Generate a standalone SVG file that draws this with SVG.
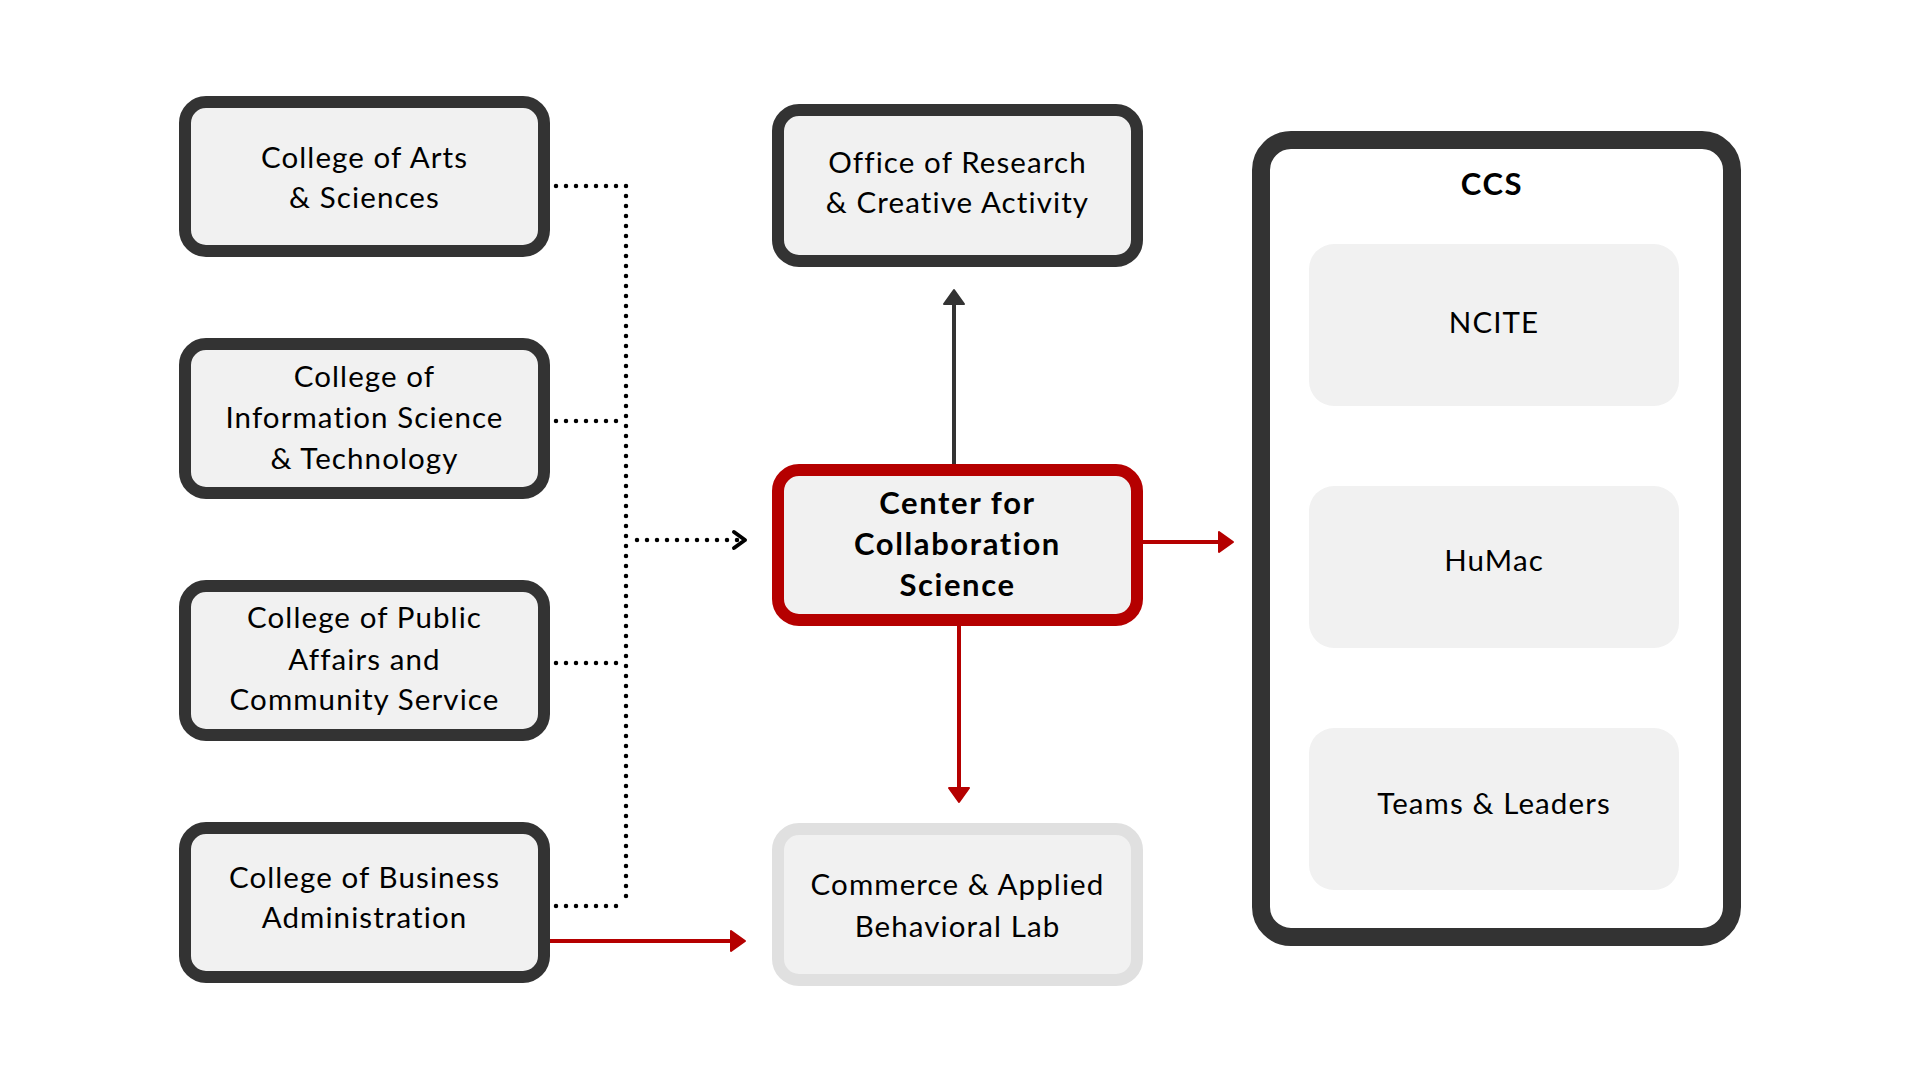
<svg xmlns="http://www.w3.org/2000/svg" width="1920" height="1080" viewBox="0 0 1920 1080">
<style>
.box{fill:#f1f1f1;stroke:#333333;stroke-width:12}
.red{fill:#f1f1f1;stroke:#b50000;stroke-width:12}
.lite{fill:#f1f1f1;stroke:#e0e0e0;stroke-width:12}
.inner{fill:#f1f1f1}
.t{font-family:Lato,"Noto Sans",sans-serif;font-size:29.5px;letter-spacing:1.1px;fill:#000;text-anchor:middle}
.b{font-weight:bold;font-size:31px;letter-spacing:1.6px}
.dot{fill:none;stroke:#000;stroke-width:4.5;stroke-linecap:round;stroke-dasharray:0 10}
.sol{fill:none;stroke-width:4}
</style>
<defs>
<marker id="ahDark" markerUnits="userSpaceOnUse" viewBox="-2 -2 18 24" refX="6" refY="10" markerWidth="18" markerHeight="24" orient="auto" overflow="visible">
<path d="M0,0 L14,10 L0,20 z" fill="#333333" stroke="#333333" stroke-width="2" stroke-linejoin="round"/>
</marker>
<marker id="ahRed" markerUnits="userSpaceOnUse" viewBox="-2 -2 18 24" refX="6" refY="10" markerWidth="18" markerHeight="24" orient="auto" overflow="visible">
<path d="M0,0 L14,10 L0,20 z" fill="#b50000" stroke="#b50000" stroke-width="2" stroke-linejoin="round"/>
</marker>
<marker id="chev" markerUnits="userSpaceOnUse" viewBox="-2 -2 18 22" refX="12" refY="9" markerWidth="18" markerHeight="22" orient="auto" overflow="visible">
<path d="M1,1 L12,9 L1,17" fill="none" stroke="#000" stroke-width="4" stroke-linecap="round" stroke-linejoin="round"/>
</marker>
</defs>
<rect width="1920" height="1080" fill="#ffffff"/>

<g id="connectors">
<path class="dot" d="M556,186 L626,186"/>
<path class="dot" d="M626,186 L626,906"/>
<path class="dot" d="M556,906 L626,906"/>
<path class="dot" d="M556,421 L626,421"/>
<path class="dot" d="M556,663 L626,663"/>
<path class="dot" d="M637,540 L745,540" marker-end="url(#chev)"/>
<path class="sol" stroke="#333333" d="M954,464 L954,298" marker-end="url(#ahDark)"/>
<path class="sol" stroke="#b50000" d="M1143,542 L1225,542" marker-end="url(#ahRed)"/>
<path class="sol" stroke="#b50000" d="M959,626 L959,794" marker-end="url(#ahRed)"/>
<path class="sol" stroke="#b50000" d="M550,941 L737,941" marker-end="url(#ahRed)"/>
</g>

<g id="arts">
<rect class="box" x="185" y="102" width="359" height="149" rx="21"/>
<text class="t" x="364.5" y="168">College of Arts</text>
<text class="t" x="364.5" y="208">&amp; Sciences</text>
</g>
<g id="infosci">
<rect class="box" x="185" y="344" width="359" height="149" rx="21"/>
<text class="t" x="364.5" y="387">College of</text>
<text class="t" x="364.5" y="428">Information Science</text>
<text class="t" x="364.5" y="469">&amp; Technology</text>
</g>
<g id="publicaffairs">
<rect class="box" x="185" y="586" width="359" height="149" rx="21"/>
<text class="t" x="364.5" y="628">College of Public</text>
<text class="t" x="364.5" y="670">Affairs and</text>
<text class="t" x="364.5" y="710">Community Service</text>
</g>
<g id="business">
<rect class="box" x="185" y="828" width="359" height="149" rx="21"/>
<text class="t" x="364.5" y="888">College of Business</text>
<text class="t" x="364.5" y="928">Administration</text>
</g>
<g id="office">
<rect class="box" x="778" y="110" width="359" height="151" rx="21"/>
<text class="t" x="957.5" y="173">Office of Research</text>
<text class="t" x="957.5" y="213">&amp; Creative Activity</text>
</g>
<g id="center">
<rect class="red" x="778" y="470" width="359" height="150" rx="21"/>
<text class="t b" x="957.5" y="514">Center for</text>
<text class="t b" x="957.5" y="555">Collaboration</text>
<text class="t b" x="957.5" y="596">Science</text>
</g>
<g id="commerce">
<rect class="lite" x="778" y="829" width="359" height="151" rx="21"/>
<text class="t" x="957.5" y="895">Commerce &amp; Applied</text>
<text class="t" x="957.5" y="937">Behavioral Lab</text>
</g>
<g id="ccs">
<rect x="1261" y="140" width="471" height="797" rx="30" fill="#ffffff" stroke="#333333" stroke-width="18"/>
<text class="t b" x="1492" y="195">CCS</text>
<g id="ncite">
<rect class="inner" x="1309" y="244" width="370" height="162" rx="25"/>
<text class="t" x="1494" y="333">NCITE</text>
</g>
<g id="humac">
<rect class="inner" x="1309" y="486" width="370" height="162" rx="25"/>
<text class="t" x="1494" y="571">HuMac</text>
</g>
<g id="teams">
<rect class="inner" x="1309" y="728" width="370" height="162" rx="25"/>
<text class="t" x="1494" y="814">Teams &amp; Leaders</text>
</g>
</g>
</svg>
